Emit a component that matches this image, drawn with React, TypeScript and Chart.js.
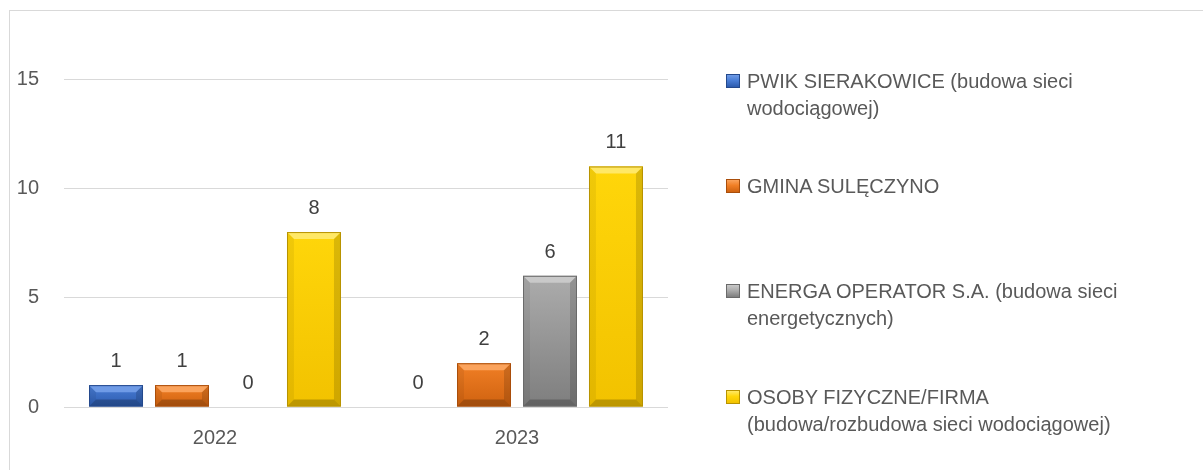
import React, { useEffect, useRef } from "react";
import { Chart, registerables } from "chart.js";

Chart.register(...registerables);

const categories = ["2022", "2023"];
const seriesNames = [
  "PWIK SIERAKOWICE (budowa sieci wodociągowej)",
  "GMINA SULĘCZYNO",
  "ENERGA OPERATOR S.A. (budowa sieci energetycznych)",
  "OSOBY FIZYCZNE/FIRMA (budowa/rozbudowa sieci wodociągowej)",
];
const pwikValues = [1, 0];
const gminaValues = [1, 2];
const energaValues = [0, 6];
const osobyValues = [8, 11];
const yMin = 0;
const yMax = 15;
const yStep = 5;

const legendLines = [
  ["PWIK SIERAKOWICE (budowa sieci", "wodociągowej)"],
  ["GMINA SULĘCZYNO"],
  ["ENERGA OPERATOR S.A. (budowa sieci", "energetycznych)"],
  ["OSOBY FIZYCZNE/FIRMA", "(budowa/rozbudowa sieci wodociągowej)"],
];

const palettes = [
  { light: "#6F9BE6", top: "#4A7ED6", bottom: "#2C5BAE", edge: "#24498C" },
  { light: "#FBA35C", top: "#F17F25", bottom: "#CF6210", edge: "#A94E0B" },
  { light: "#C9C9C9", top: "#ACACAC", bottom: "#7E7E7E", edge: "#6A6A6A" },
  { light: "#FFE866", top: "#FFD60A", bottom: "#F2C200", edge: "#B89300" },
];

const FONT = "'Liberation Sans', Arial, sans-serif";

const bevelPlugin = {
  id: "bevelBars",
  afterDatasetsDraw(chart: any) {
    const ctx = chart.ctx;
    chart.data.datasets.forEach((ds: any, di: number) => {
      const meta = chart.getDatasetMeta(di);
      const pal = palettes[di];
      meta.data.forEach((el: any, i: number) => {
        const p = el.getProps(["x", "y", "base", "width"], true);
        const left = p.x - p.width / 2;
        const right = p.x + p.width / 2;
        const top = Math.min(p.y, p.base);
        const bottom = Math.max(p.y, p.base);
        const h = bottom - top;
        const w = right - left;
        if (h >= 1) {
          ctx.save();
          const g = ctx.createLinearGradient(0, top, 0, bottom);
          g.addColorStop(0, pal.top);
          g.addColorStop(1, pal.bottom);
          ctx.fillStyle = g;
          ctx.fillRect(left, top, w, h);
          const b = Math.min(7, h / 2, w / 2);
          // top bevel
          ctx.beginPath();
          ctx.moveTo(left, top);
          ctx.lineTo(right, top);
          ctx.lineTo(right - b, top + b);
          ctx.lineTo(left + b, top + b);
          ctx.closePath();
          ctx.fillStyle = pal.light;
          ctx.fill();
          // left bevel
          ctx.beginPath();
          ctx.moveTo(left, top);
          ctx.lineTo(left + b, top + b);
          ctx.lineTo(left + b, bottom - b);
          ctx.lineTo(left, bottom);
          ctx.closePath();
          ctx.fillStyle = "rgba(0,0,0,0.06)";
          ctx.fill();
          // right bevel
          ctx.beginPath();
          ctx.moveTo(right, top);
          ctx.lineTo(right - b, top + b);
          ctx.lineTo(right - b, bottom - b);
          ctx.lineTo(right, bottom);
          ctx.closePath();
          ctx.fillStyle = "rgba(0,0,0,0.14)";
          ctx.fill();
          // bottom bevel
          ctx.beginPath();
          ctx.moveTo(left, bottom);
          ctx.lineTo(right, bottom);
          ctx.lineTo(right - b, bottom - b);
          ctx.lineTo(left + b, bottom - b);
          ctx.closePath();
          ctx.fillStyle = "rgba(0,0,0,0.22)";
          ctx.fill();
          ctx.strokeStyle = pal.edge;
          ctx.lineWidth = 1;
          ctx.strokeRect(left + 0.5, top + 0.5, w - 1, h - 1);
          ctx.restore();
        }
        // data label
        const v = ds.data[i];
        ctx.save();
        ctx.font = `20px ${FONT}`;
        ctx.fillStyle = "#404040";
        ctx.textAlign = "center";
        ctx.textBaseline = "alphabetic";
        ctx.fillText(String(v), p.x, top - 18);
        ctx.restore();
      });
    });
  },
};

export default function App() {
  const ref = useRef<HTMLCanvasElement>(null);
  useEffect(() => {
    const values = [pwikValues, gminaValues, energaValues, osobyValues];
    const chart = new Chart(ref.current as HTMLCanvasElement, {
      type: "bar",
      data: {
        labels: categories,
        datasets: values.map((d, i) => ({
          label: seriesNames[i],
          data: d,
          backgroundColor: "rgba(0,0,0,0)",
          borderWidth: 0,
          barPercentage: 0.818,
          categoryPercentage: 0.874,
        })),
      },
      options: {
        animation: false,
        responsive: true,
        maintainAspectRatio: false,
        devicePixelRatio: 1,
        layout: { padding: { left: 0, right: 535, top: 79, bottom: 0 } },
        plugins: {
          legend: { display: false },
          tooltip: { enabled: false },
        },
        scales: {
          x: {
            grid: { display: false, drawTicks: false },
            border: { display: false },
            ticks: { color: "#595959", font: { family: FONT, size: 20 }, padding: 19 },
            afterFit: (s: any) => {
              s.height = 63;
            },
          },
          y: {
            min: yMin,
            max: yMax,
            ticks: {
              stepSize: yStep,
              color: "#595959",
              font: { family: FONT, size: 20 },
              padding: 25,
            },
            grid: { color: "#d9d9d9", lineWidth: 1, drawTicks: false },
            border: { display: false },
            afterFit: (s: any) => {
              s.width = 64;
            },
          },
        },
      },
      plugins: [bevelPlugin],
    });
    return () => chart.destroy();
  }, []);

  const legendTops = [68, 173, 278, 384];

  return (
    <div
      style={{
        position: "fixed",
        left: 0,
        top: 0,
        width: 1203,
        height: 470,
        background: "#ffffff",
        overflow: "hidden",
      }}
    >
      <div
        style={{
          position: "absolute",
          left: 9,
          top: 10,
          width: 1203,
          height: 470,
          borderTop: "1px solid #d9d9d9",
          borderLeft: "1px solid #d9d9d9",
        }}
      />
      <div style={{ position: "absolute", left: 0, top: 0, width: 1203, height: 470 }}>
        <canvas ref={ref} />
      </div>
      {legendLines.map((lines, i) => (
        <div
          key={i}
          style={{
            position: "absolute",
            left: 747,
            top: legendTops[i],
            fontFamily: FONT,
            fontSize: 20,
            lineHeight: "27px",
            color: "#595959",
            whiteSpace: "nowrap",
          }}
        >
          {lines.map((l, j) => (
            <div key={j}>{l}</div>
          ))}
          <div
            style={{
              position: "absolute",
              left: -21,
              top: 6,
              width: 12,
              height: 12,
              border: `1px solid ${palettes[i].edge}`,
              background: `linear-gradient(180deg, ${palettes[i].light} 0%, ${palettes[i].top} 45%, ${palettes[i].bottom} 100%)`,
            }}
          />
        </div>
      ))}
    </div>
  );
}
